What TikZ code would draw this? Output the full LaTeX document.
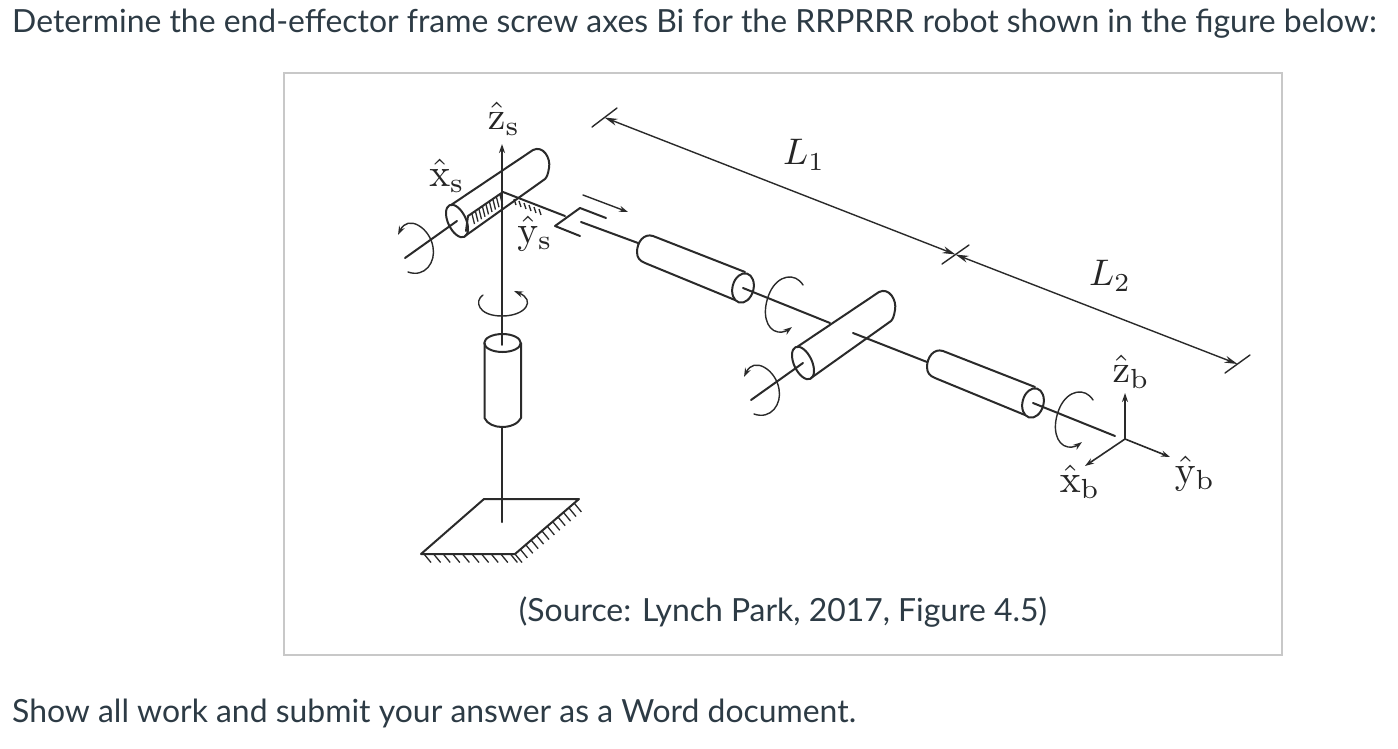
\documentclass[tikz,border=0pt]{standalone}
\usepackage[no-math]{fontspec}
\setmainfont{Lato}
\usetikzlibrary{arrows.meta}
\definecolor{canvastext}{HTML}{2D3B45}
\definecolor{framegray}{HTML}{C8C8C8}
\definecolor{ink}{HTML}{2A2A2A}
\newcommand{\axlabel}[2]{$\hat{\mathrm{#1}}_{\mathrm{#2}}$}
\tikzset{
  mech/.style={draw=ink,line width=2pt,line cap=round,line join=round},
  thin mech/.style={draw=ink,line width=1.4pt,line cap=round},
  hatch/.style={draw=ink,line width=1.3pt},
  arr/.style={-{Stealth[length=9pt,width=6pt]}},
  bodytext/.style={text=canvastext,anchor=base west,inner sep=0pt,font=\fontsize{31.9}{34}\selectfont},
  axl/.style={inner sep=0pt,text=black!85,scale=3.95},
  revolute/.pic={
    \draw[mech,rotate around={25:(457,221)}] (457,221) ellipse [x radius=9,y radius=17.5];
    \draw[mech] (451,205) -- (533,150) .. controls (543,145) and (551,158) .. (549,168) .. controls (548,174) and (547,177) .. (545,179) -- (465,236);
    \draw[mech] (405,258) -- (457,221);
    \draw[thin mech,arr] (408,272) .. controls (425,278) and (436,262) .. (433,247) .. controls (430,228) and (408,214) .. (398,235);
  },
  linkcyl/.pic={
    \draw[mech] (745,272) -- (653,236) .. controls (644,233) and (637,242) .. (637,252) .. controls (637,258) and (640,261) .. (645,263) -- (735,300);
    \draw[mech,rotate around={-15:(743,288)}] (743,288) ellipse [x radius=10.5,y radius=15];
    \draw[thin mech,arr] (803,285) .. controls (795,272) and (778,275) .. (770,292) .. controls (761,312) and (766,330) .. (778,332) .. controls (783,333) and (788,330) .. (792,327);
  }
}
\begin{document}
\begin{tikzpicture}[x=1pt,y=-1pt]
\useasboundingbox (0,0) rectangle (1398,748);
\fill[white] (0,0) rectangle (1398,748);
\node[bodytext] (head) at (12,32) {Determine the end-effector frame screw axes Bi for the RRPRRR robot shown in the figure below:};
\node[bodytext] (foot) at (12,722) {Show all work and submit your answer as a Word document.};
\draw[framegray,line width=1.6pt] (284,73) rectangle (1282,655);
\node[text=canvastext,inner sep=0pt,font=\fontsize{31.9}{34}\selectfont] (src) at (783,612) {(Source: Lynch Park, 2017, Figure 4.5)};

% dimension lines
\coordinate (d0) at (604.5,117.5);
\coordinate (d1) at (955.5,254.5);
\coordinate (d2) at (1237.5,364);
\draw[thin mech] (592,127) -- (617,108);
\draw[thin mech] (942,264) -- (969,245);
\draw[thin mech] (1225,373) -- (1250,355);
\draw[thin mech,{Stealth[length=13pt,width=7pt]}-{Stealth[length=13pt,width=7pt]}] (d0) -- (d1);
\draw[thin mech,{Stealth[length=13pt,width=7pt]}-{Stealth[length=13pt,width=7pt]}] (d1) -- (d2);
\node[axl,scale=3.7/3.95] (L1) at (804,155) {$L_1$};
\node[axl,scale=3.7/3.95] (L2) at (1110,276) {$L_2$};

% base
\draw[mech] (421,554) -- (484,499) -- (579,499) -- (515,554) -- cycle;
\foreach \t in {0,...,9}
  \draw[hatch] ({424+\t*9.6},554) -- ++(7,8.5);
\foreach \t in {0,...,11}
  \draw[hatch] ({515+\t*5.4},{554-\t*4.6}) -- ++(7,8.5);

% vertical axis
\draw[mech] (502,427) -- (502,522);
\draw[thin mech,line width=1.6pt,arr] (502,345) -- (502,144);
\draw[mech] (484.5,343) -- (484.5,418) .. controls (487,424) and (495,427) .. (502,427) .. controls (510,427) and (518,424) .. (521,418) -- (521,343);
\draw[mech] (502.5,343) ellipse [x radius=18.2,y radius=9];
\draw[thin mech,arr] (483,295) .. controls (474,301) and (478,316) .. (502,316) .. controls (526,316) and (536,300) .. (514,291);

% shoulder revolute and second one
\pic {revolute};
\pic[shift={(346,142)}] {revolute};

% hatched base of shoulder
\draw[mech] (468,216) -- (503,192) -- (565,216);
\draw[mech] (468,216) -- (466,231);
\foreach \t in {0,...,8}
  \draw[hatch] ({472+\t*3.5},{214-\t*2.4}) -- ++(2.5,10);
\foreach \t in {0,...,5}
  \draw[hatch] ({514+\t*5},{199+\t*2}) -- ++(2,6);

% prismatic fork
\draw[mech] (580,236) -- (555,226) -- (580,208) -- (606,218);
\draw[mech] (581,222) -- (638,243);
\draw[thin mech,arr] (583,195) -- (628,212);

% links
\pic {linkcyl};
\pic[shift={(290,115)}] {linkcyl};
\draw[mech] (743,288) -- (830,323);
\draw[mech] (853,333) -- (927,362);
\draw[mech] (1033,403) -- (1115,436);

% body frame
\coordinate (ob) at (1125,439);
\draw[thin mech,line width=1.6pt,arr] (ob) -- (1125,393);
\draw[thin mech,line width=1.6pt,arr] (ob) -- (1085,466);
\draw[thin mech,line width=1.6pt,arr] (ob) -- (1170,457);

% axis labels
\node[axl] (zs) at (504,119) {\axlabel{z}{s}};
\node[axl] (xs) at (447,176) {\axlabel{x}{s}};
\node[axl] (ys) at (535,234) {\axlabel{y}{s}};
\node[axl] (zb) at (1131,372) {\axlabel{z}{b}};
\node[axl] (xb) at (1080,482) {\axlabel{x}{b}};
\node[axl] (yb) at (1195,474) {\axlabel{y}{b}};
\end{tikzpicture}
\end{document}
